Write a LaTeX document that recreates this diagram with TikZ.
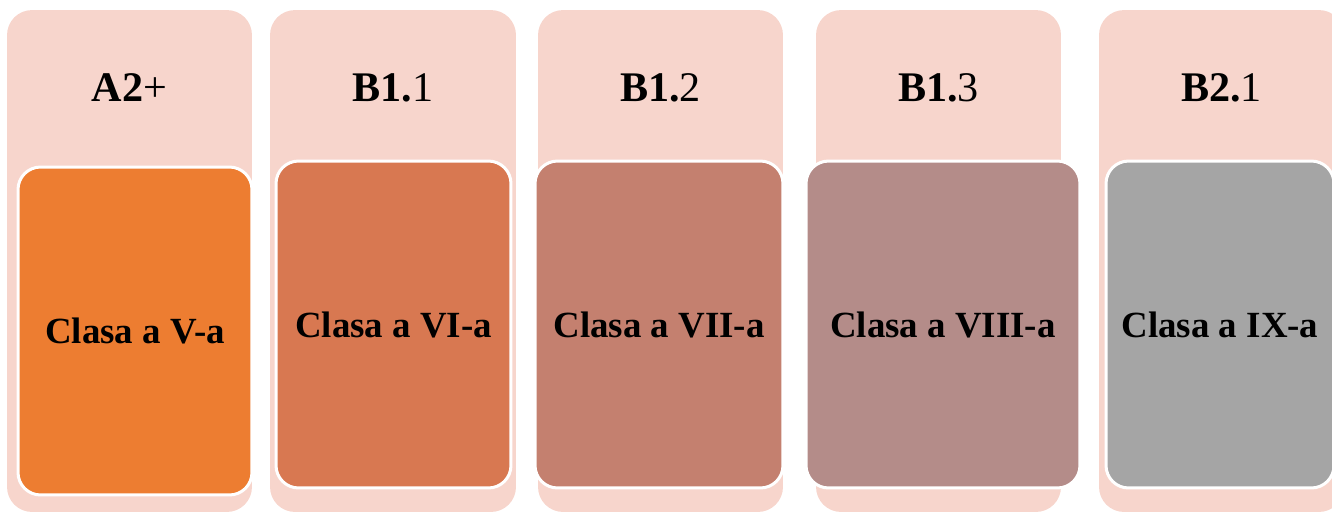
\documentclass[tikz,border=0pt]{standalone}
\usepackage{fontspec}
\setmainfont{Liberation Serif}
\definecolor{pinkbg}{HTML}{F7D5CC}
\definecolor{clsV}{HTML}{ED7D31}
\definecolor{clsVI}{HTML}{D87851}
\definecolor{clsVII}{HTML}{C4806F}
\definecolor{clsVIII}{HTML}{B48C89}
\definecolor{clsIX}{HTML}{A5A5A5}
\tikzset{
  levelbox/.style={fill=pinkbg, draw=none, rounded corners=0.5cm, minimum height=10.04cm, inner sep=0pt},
  levellabel/.style={anchor=base, font=\fontsize{24}{28}\selectfont},
  classbox/.style={draw=white, line width=0.6mm, rounded corners=0.45cm, inner sep=0pt,
    font=\fontsize{21}{25}\selectfont\bfseries}
}
\begin{document}
\begin{tikzpicture}[x=0.02cm, y=-0.02cm]
        \useasboundingbox (0,0) rectangle (1332,511);
        \clip (0,0) rectangle (1332,511);
        % background columns
        \node[levelbox, minimum width=4.90cm] (lvlA) at (129.5,261) {};
        \node[levelbox, minimum width=4.92cm] (lvlBa) at (393,261) {};
        \node[levelbox, minimum width=4.90cm] (lvlBb) at (660.5,261) {};
        \node[levelbox, minimum width=4.90cm] (lvlBc) at (938.5,261) {};
        \node[levelbox, minimum width=4.90cm] (lvlBd) at (1221.5,261) {};
        % level names
        \node[levellabel] (nameA) at (129.5,101) {\textbf{A2}+};
        \node[levellabel] (nameBa) at (393,101) {\textbf{B1.}1};
        \node[levellabel] (nameBb) at (660.5,101) {\textbf{B1.}2};
        \node[levellabel] (nameBc) at (938.5,101) {\textbf{B1.}3};
        \node[levellabel] (nameBd) at (1221.5,101) {\textbf{B2.}1};
        % classes
        \node[classbox, fill=clsV, minimum width=4.68cm, minimum height=6.56cm] (clasaV) at (135,331) {Clasa a V-a};
        \node[classbox, fill=clsVI, minimum width=4.70cm, minimum height=6.54cm] (clasaVI) at (393.5,324.5) {Clasa a VI-a};
        \node[classbox, fill=clsVII, minimum width=4.96cm, minimum height=6.54cm] (clasaVII) at (659,324.5) {Clasa a VII-a};
        \node[classbox, fill=clsVIII, minimum width=5.48cm, minimum height=6.54cm] (clasaVIII) at (943,324.5) {Clasa a VIII-a};
        \node[classbox, fill=clsIX, minimum width=4.56cm, minimum height=6.54cm] (clasaIX) at (1220,324.5) {Clasa a IX-a};
\end{tikzpicture}
\end{document}
